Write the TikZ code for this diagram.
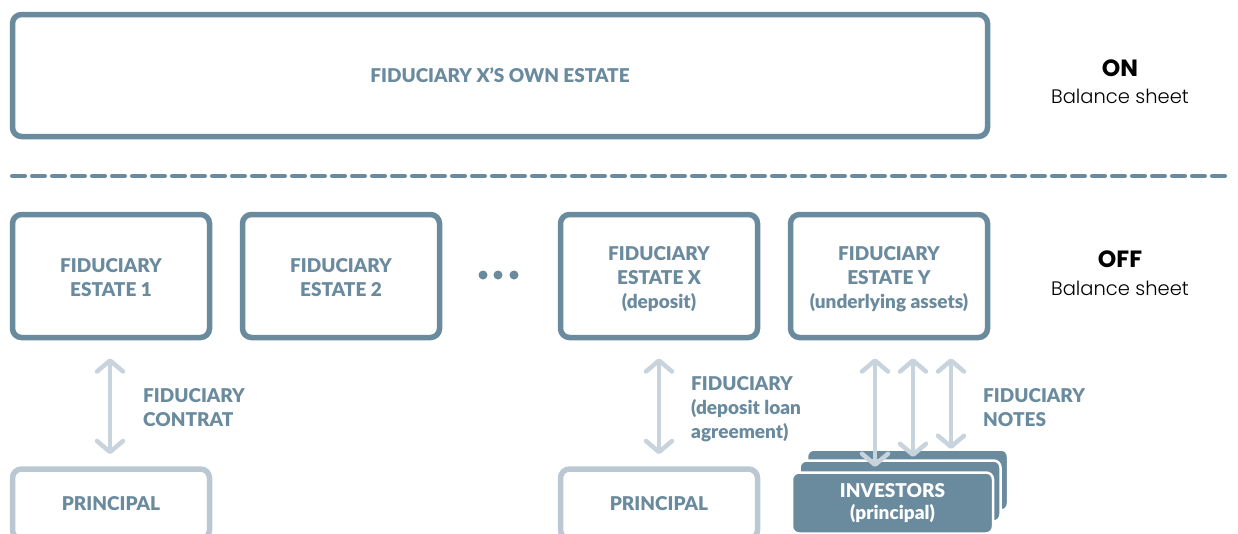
\documentclass[tikz,border=0pt]{standalone}
\usepackage{fontspec}
\setmainfont{Lato}[BoldFont={Lato Black}]
\newfontfamily\popfont{Poppins}[UprightFont={* Bold}]
\newfontfamily\poplight{Poppins}[UprightFont={* Light}]
\usetikzlibrary{arrows.meta,calc}
\definecolor{mainc}{RGB}{106,138,158}
\definecolor{lightc}{RGB}{200,212,221}
\definecolor{princ}{RGB}{185,200,211}
\newcommand\mytopstrut[1]{\rule{0pt}{#1}}
\tikzset{
  estate/.style={draw=mainc, line width=5.5pt, rounded corners=9pt, fill=white,
    text=mainc, font=\bfseries\fontsize{19}{24}\selectfont, align=center,
    minimum width=197pt, minimum height=123pt, inner sep=0pt},
  ownestate/.style={estate, minimum width=975pt, minimum height=122pt},
  principal/.style={estate, draw=princ, minimum height=70pt},
  invbox/.style={draw=white, line width=2.5pt, fill=mainc, rounded corners=7pt,
    minimum width=201pt, minimum height=61pt, inner sep=0pt},
  link/.style={draw=lightc, line width=4.5pt, line cap=round,
    {Straight Barb[length=11pt,width=26pt,line width=4.5pt,round]}-{Straight Barb[length=11pt,width=26pt,line width=4.5pt,round]}},
  lbl/.style={text=mainc, font=\bfseries\fontsize{19}{24}\selectfont, align=left, anchor=west, inner sep=0pt},
  sidehead/.style={inner sep=0pt, font=\popfont\fontsize{23.5}{26}\selectfont},
  sidesub/.style={inner sep=0pt, font=\poplight\fontsize{19.5}{24}\selectfont},
  dot/.style={circle, fill=mainc, minimum size=9pt, inner sep=0pt},
}
\begin{document}
\begin{tikzpicture}[x=1pt,y=-1pt]
\useasboundingbox (0,0) rectangle (1238,533);
% top
\node[ownestate] (own) at (500,75.5) {FIDUCIARY X'S OWN ESTATE};
\coordinate (dl) at (12,176);
\coordinate (dr) at (1227,176);
\draw[mainc, line width=4pt, dash pattern=on 13pt off 7pt, line cap=round] (dl) -- (dr);
% right labels
\node[sidehead] (on) at (1120,68) {ON};
\node[sidesub] (onb) at (1120,96) {Balance sheet};
\node[sidehead] (off) at (1120,259) {OFF};
\node[sidesub] (offb) at (1120,288) {Balance sheet};
% row
\node[estate] (e1) at (111,276) {\mytopstrut{17.6pt}FIDUCIARY\\ESTATE 1};
\node[estate] (e2) at (341,276) {\mytopstrut{17.6pt}FIDUCIARY\\ESTATE 2};
\node[dot] (d1) at (483,275) {};
\node[dot] (d2) at (498,275) {};
\node[dot] (d3) at (514,275) {};
\node[estate] (ex) at (659,276) {\mytopstrut{19.6pt}FIDUCIARY\\ESTATE X\\(deposit)};
\node[estate] (ey) at (889,276) {\mytopstrut{19.6pt}FIDUCIARY\\ESTATE Y\\(underlying assets)};
% principals
\node[principal] (p1) at (111,504) {PRINCIPAL};
\node[principal] (p2) at (659,504) {PRINCIPAL};
% investors stack
\node[invbox] (i3) at (907.5,480) {};
\node[invbox] (i2) at (900,491) {};
\node[invbox, text=white, font=\bfseries\fontsize{19}{22}\selectfont, align=center] (i1) at (892.5,503) {INVESTORS\\(principal)};
% arrows
\draw[link] ($(e1.south)+(-1,18)$) -- ($(p1.north)+(-1,-12)$);
\draw[link] ($(ex.south)+(0,18)$) -- ($(p2.north)+(0,-12)$);
\coordinate (n1) at (875,467);
\coordinate (n2) at (913,457);
\coordinate (n3) at (951,449);
\draw[link] (ey.south -| n1) ++(0,18) -- (n1);
\draw[link] (ey.south -| n2) ++(0,18) -- (n2);
\draw[link] (ey.south -| n3) ++(0,18) -- (n3);
% labels
\node[lbl] (l1) at (143,408) {FIDUCIARY\\CONTRAT};
\node[lbl] (l2) at (691,409) {FIDUCIARY\\(deposit loan\\agreement)};
\node[lbl] (l3) at (983,408) {FIDUCIARY\\NOTES};
\end{tikzpicture}
\end{document}
